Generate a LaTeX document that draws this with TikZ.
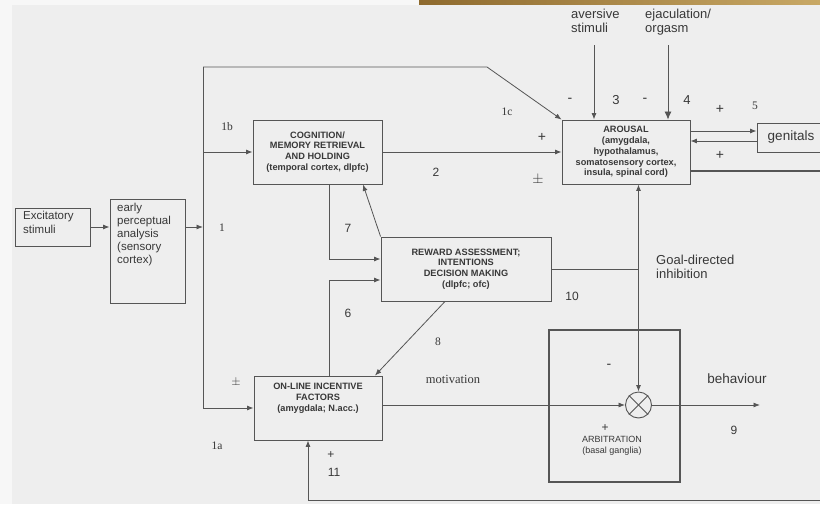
\documentclass[tikz,border=0pt]{standalone}
\usepackage{fontspec}
\setmainfont{Liberation Serif}
\setsansfont{Liberation Sans}
\usetikzlibrary{arrows.meta}
\definecolor{ln}{HTML}{555555}
\definecolor{tx}{HTML}{383838}
\definecolor{paper}{HTML}{EEEEEE}
\definecolor{margin}{HTML}{F7F7F7}
\definecolor{goldA}{HTML}{8E6A2E}
\definecolor{goldB}{HTML}{C8A865}
\begin{document}
\begin{tikzpicture}[x=1pt,y=-1pt,
  line/.style={draw=ln,line width=0.8pt},
  arr/.style={line,-{Latex[length=6.5pt,width=5pt]}},
  bigarr/.style={line,-{Latex[length=8pt,width=7pt]}},
  box/.style={draw=ln,line width=0.9pt,inner sep=0pt,text=tx,
    font=\fontsize{9.2}{10.8}\selectfont\sffamily\bfseries,align=center},
  sans/.style={text=tx,font=\fontsize{12}{14}\selectfont\sffamily,inner sep=0pt},
  sign/.style={text=tx,font=\fontsize{14}{14}\selectfont\sffamily,inner sep=0pt},
  bigsans/.style={text=tx,font=\fontsize{13}{14}\selectfont\sffamily,inner sep=0pt},
  serif/.style={text=tx,font=\fontsize{11.5}{13}\selectfont\rmfamily,inner sep=0pt},
]
\useasboundingbox (0,0) rectangle (820,504);
\fill[margin] (0,0) rectangle (820,504);
\fill[paper] (12,5) rectangle (820,504);
\shade[left color=goldA,right color=goldB] (419,0) rectangle (820,4.5);

% boxes
\node[box,minimum width=75pt,minimum height=38pt] (exc) at (52.5,227) {};
\node[sans,align=left,anchor=north west,font=\fontsize{11.5}{14}\selectfont\sffamily] (exct) at (23,211) {Excitatory\\stimuli};
\node[box,minimum width=75pt,minimum height=104pt] (early) at (147.5,251) {};
\node[sans,align=left,anchor=north west,font=\fontsize{11.5}{13}\selectfont\sffamily] (earlyt) at (117,203) {early\\perceptual\\analysis\\(sensory\\cortex)};
\node[box,minimum width=129pt,minimum height=64pt] (cog) at (317.5,152) {COGNITION/\\MEMORY RETRIEVAL\\AND HOLDING\\(temporal cortex, dlpfc)};
\node[box,minimum width=128pt,minimum height=64pt] (arousal) at (626,152) {AROUSAL\\(amygdala,\\hypothalamus,\\somatosensory cortex,\\insula, spinal cord)};
\node[box,minimum width=68pt,minimum height=29pt,font=\fontsize{13.5}{14}\selectfont\sffamily] (gen) at (791,137.5) {genitals};
\node[box,minimum width=170pt,minimum height=64pt] (reward) at (466,269) {REWARD ASSESSMENT;\\INTENTIONS\\DECISION MAKING\\(dlpfc; ofc)};
\node[box,minimum width=128pt,minimum height=64pt] (online) at (318,408) {};
\node[text=tx,font=\fontsize{9.2}{10.8}\selectfont\sffamily\bfseries,align=center,inner sep=0pt] (onlinet) at (318,398) {ON-LINE INCENTIVE\\FACTORS\\(amygdala; N.acc.)};
\node[draw=ln,line width=1.1pt,minimum width=131pt,minimum height=152pt,inner sep=0pt] (arb) at (614.5,406) {};
\node[text=tx,font=\fontsize{9}{11}\selectfont\sffamily,align=center,inner sep=0pt] (arbt) at (612,446) {ARBITRATION\\(basal ganglia)};
\node[draw=ln,line width=0.9pt,circle,minimum size=26pt,inner sep=0pt] (circ) at (638.5,405) {};
\draw[line] (circ.north east) -- (circ.south west);
\draw[line] (circ.north west) -- (circ.south east);

% top inputs
\node[bigsans,align=left,anchor=north west] (av) at (571,9) {aversive\\stimuli};
\node[bigsans,align=left,anchor=north west] (ej) at (645,9) {ejaculation/\\orgasm};
\coordinate (avs) at (594,45);
\coordinate (ejs) at (668,45);
\draw[arr] (avs) -- (avs |- arousal.north);
\draw[bigarr] (ejs) -- (ejs |- arousal.north);

% bus
\coordinate (btop) at (203,67);
\coordinate (bmid) at (203,227);
\coordinate (bbot) at (203,408);
\coordinate (bkink) at (487,67);
\draw[line] (btop) -- (bbot);
\draw[arr] (exc.east) -- (exc.east -| early.west);
\draw[arr] (exc.east -| early.east) -- (bmid);
\draw[arr] (btop) -- (bkink) -- (arousal.north west);
\draw[arr] (cog.west -| btop) -- (cog.west);
\draw[arr] (cog.east) -- (arousal.west);
\draw[arr] (bbot) -- (online.west);

% genitals
\draw[arr] ([yshift=21pt]arousal.east) -- ([yshift=21pt]arousal.east -| gen.west);
\draw[arr] ([yshift=11pt]arousal.east -| gen.west) -- ([yshift=11pt]arousal.east);
\coordinate (fbR) at (824,171);
\draw[draw=ln,line width=1.8pt] ([yshift=-19pt]arousal.east) -- (fbR);

% reward links
\coordinate (jn) at (circ.north |- reward.east);
\draw[line] (reward.east) -- (jn);
\draw[arr] (jn) -- (jn |- arousal.south);
\draw[arr] (jn) -- (circ.north);
\draw[arr] (reward.north west) -- ([xshift=45.5pt]cog.south);
\draw[arr] ([xshift=11.5pt]cog.south) |- ([yshift=10pt]reward.west);
\draw[arr] ([xshift=11pt]online.north) |- ([yshift=-11pt]reward.west);
\draw[arr] ([xshift=-21pt]reward.south) -- ([xshift=57pt]online.north);

% output
\draw[arr] ([yshift=3pt]online.east) -- (circ.west);
\coordinate (out) at (760,405);
\draw[arr] (circ.east) -- (out);

% feedback
\coordinate (fbB) at (824,500);
\draw[arr] (fbB) -| ([xshift=-10pt]online.south);

% labels
\node[serif] (l1b) at (227,127) {1b};
\node[serif] (l1c) at (507,112) {1c};
\node[serif] (l1) at (222,228) {1};
\node[serif] (l1a) at (217,446) {1a};
\node[serif] (lpm1) at (236,382) {$\pm$};
\node[serif] (l5) at (755,106) {5};
\node[serif] (l8) at (438,342) {8};
\node[serif,font=\fontsize{12.5}{13}\selectfont\rmfamily] (lmot) at (453,379) {motivation};
\node[serif,font=\fontsize{15}{15}\selectfont\rmfamily] (lpm2) at (538,180) {$\pm$};
\node[sans] (l2) at (436,172) {2};
\node[sans,font=\fontsize{13}{14}\selectfont\sffamily] (l3) at (616,100) {3};
\node[sans,font=\fontsize{13}{14}\selectfont\sffamily] (l4) at (687,100) {4};
\node[sans] (l6) at (348,313) {6};
\node[sans] (l7) at (348,228) {7};
\node[sans] (l9) at (734,430) {9};
\node[sans] (l10) at (572,296) {10};
\node[sans] (l11) at (334,472) {11};
\node[sign] (p1) at (542,137) {+};
\node[sign] (p2) at (720,109) {+};
\node[sign] (p3) at (720,155) {+};
\node[sans] (p4) at (605,428) {+};
\node[sans] (p5) at (331,455) {+};
\node[sign] (m1) at (570,100) {-};
\node[sign] (m2) at (645,100) {-};
\node[sign] (m3) at (609,366) {-};
\node[bigsans,align=left,anchor=west] (goal) at (656,267) {Goal-directed\\inhibition};
\node[bigsans,font=\fontsize{13.5}{14}\selectfont\sffamily] (beh) at (737,379) {behaviour};
\end{tikzpicture}
\end{document}
